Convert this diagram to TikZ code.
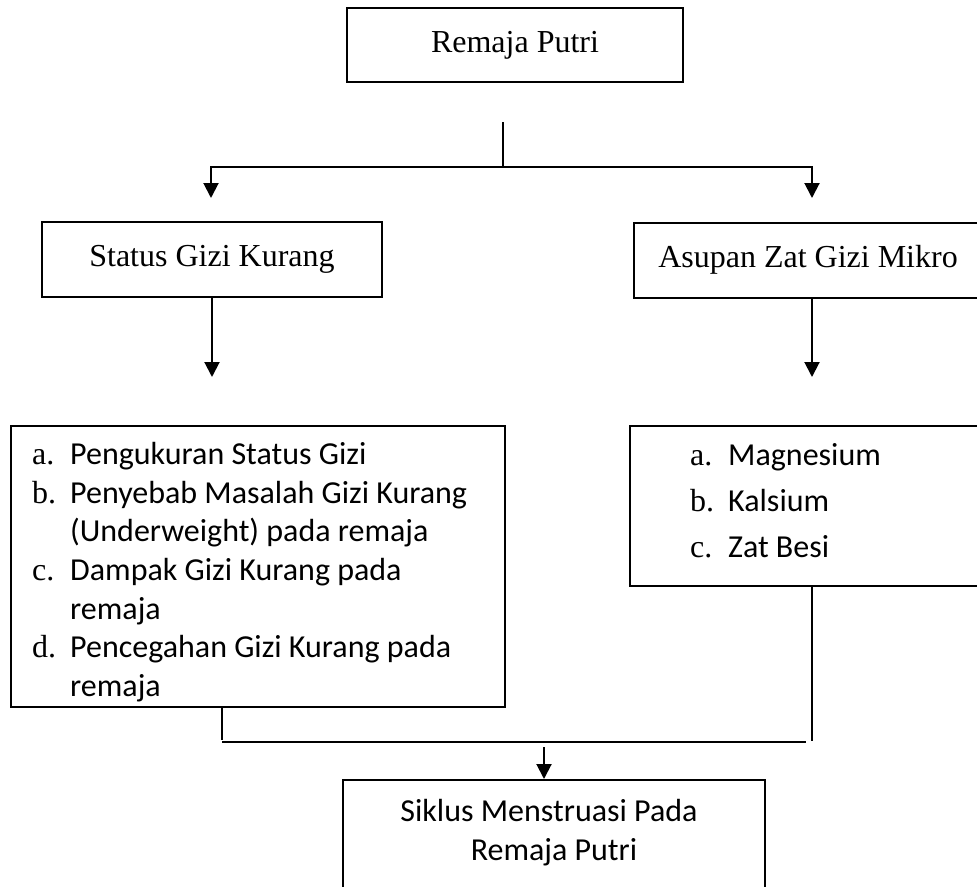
\documentclass[tikz,border=0pt]{standalone}
\usepackage{fontspec}
\setmainfont{Liberation Serif}
\newfontfamily\calfont{Carlito}
\usetikzlibrary{arrows.meta}
\begin{document}
\begin{tikzpicture}[x=1pt,y=-1pt,
  txtsize/.style={font=\fontsize{32}{38}\selectfont},
  box/.style={draw,line width=2pt,inner sep=0pt,txtsize},
  ln/.style={line width=2pt},
  arr/.style={line width=2pt,-{Triangle[width=15pt,length=15pt]}},
  lab/.style={inner sep=0pt,anchor=base west,txtsize},
  itm/.style={inner sep=0pt,anchor=base west,font=\calfont\fontsize{32}{38}\selectfont},
  ctr/.style={inner sep=0pt,anchor=base,font=\calfont\fontsize{32}{38}\selectfont}]
\useasboundingbox (0,0) rectangle (977,886);
\clip (0,0) rectangle (977,886);
% boxes
\node[box,minimum width=336pt,minimum height=74pt] (top) at (515,45) {Remaja Putri};
\node[box,minimum width=340pt,minimum height=75pt] (sgk) at (212,259.5) {Status Gizi Kurang};
\node[box,anchor=north west,minimum width=360pt,minimum height=75pt] (asp) at (633,222) {};
\node[inner sep=0pt,txtsize] (asptx) at (808,259.5) {Asupan Zat Gizi Mikro};
\node[box,anchor=north west,minimum width=494pt,minimum height=281pt] (l1) at (10,425) {};
\node[box,anchor=north west,minimum width=365pt,minimum height=160pt] (l2) at (629,425) {};
\node[box,anchor=north west,minimum width=422pt,minimum height=140pt] (bot) at (342,779) {};
% left list
\node[lab] (la) at (32,464) {a.};
\node[itm] (ta) at (70,464) {Pengukuran Status Gizi};
\node[lab] (lb) at (32,503) {b.};
\node[itm] (tb) at (70,503) {Penyebab Masalah Gizi Kurang};
\node[itm] (tb2) at (70,541) {(Underweight) pada remaja};
\node[lab] (lc) at (32,580) {c.};
\node[itm] (tc) at (70,580) {Dampak Gizi Kurang pada};
\node[itm] (tc2) at (70,619) {remaja};
\node[lab] (ld) at (32,657) {d.};
\node[itm] (td) at (70,657) {Pencegahan Gizi Kurang pada};
\node[itm] (td2) at (70,696) {remaja};
% right list
\node[lab] (ra) at (690,465) {a.};
\node[itm] (rta) at (728,465) {Magnesium};
\node[lab] (rb) at (690,511) {b.};
\node[itm] (rtb) at (728,511) {Kalsium};
\node[lab] (rc) at (690,557) {c.};
\node[itm] (rtc) at (728,557) {Zat Besi};
% bottom text
\node[ctr] (bt1) at (549,821) {Siklus Menstruasi Pada};
\node[ctr] (bt2) at (554,860) {Remaja Putri};
% connectors top
\coordinate (c1) at (503,122);
\coordinate (c2) at (503,167);
\coordinate (tl) at (211,198);
\coordinate (tr) at (812,198);
\draw[ln] (c1) -- (c2);
\draw[arr] (c2) -| (tl);
\draw[arr] (c2) -| (tr);
\coordinate (sl) at (212,377);
\coordinate (sr) at (812,377);
\draw[arr] (sgk.south) -- (sl);
\draw[arr] (asp.south -| sr) -- (sr);
% connectors bottom
\coordinate (bl) at (222,740);
\coordinate (hl) at (222,742);
\coordinate (hr) at (806,742);
\coordinate (vr) at (812,741);
\coordinate (ma) at (544,747);
\draw[ln] (l1.south -| bl) -- (bl);
\draw[ln] (hl) -- (hr);
\draw[ln] (l2.south -| vr) -- (vr);
\draw[arr] (ma) -- (bot.north -| ma);
\end{tikzpicture}
\end{document}
